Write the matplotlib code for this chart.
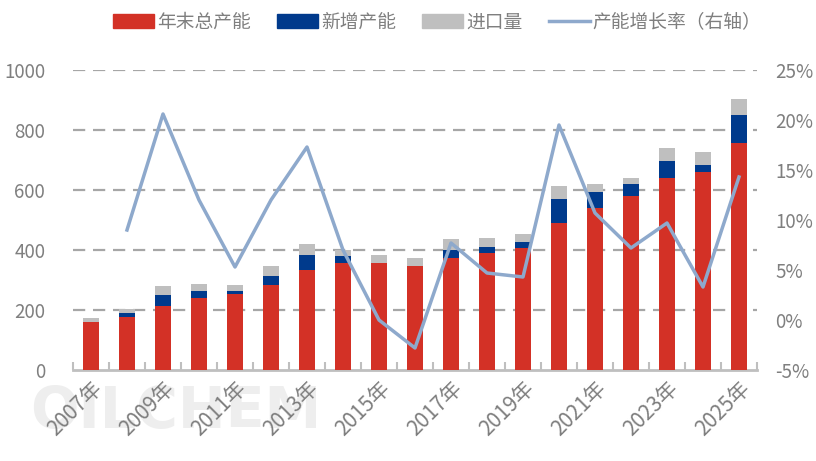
import matplotlib
matplotlib.use("Agg")
import matplotlib.pyplot as plt
import numpy as np
from matplotlib.lines import Line2D
from matplotlib.patches import Patch

plt.rcParams['font.family'] = ['Noto Sans CJK SC', 'DejaVu Sans']

years = list(range(2007, 2026))
total_cap = [160, 177, 213, 241, 253, 283, 333, 357, 357, 347, 373, 390, 407, 490, 540, 580, 640, 660, 757]
new_cap = [0, 14, 37, 22, 10, 30, 50, 23, 0, 0, 27, 20, 20, 80, 53, 40, 57, 23, 93]
imports = [13, 12, 30, 24, 20, 34, 37, 20, 26, 26, 37, 30, 26, 43, 27, 20, 43, 44, 53]
growth = [None, 9.0, 20.6, 12.0, 5.3, 12.0, 17.3, 7.0, 0.0, -2.8, 7.7, 4.7, 4.3, 19.5, 10.7, 7.2, 9.7, 3.3, 14.3]
xlabels = [f"{y}年" if (y - 2007) % 2 == 0 else "" for y in years]

RED = '#D33126'
BLUE = '#003A8C'
GRAY = '#BFBFBF'
LINE = '#8EA9CC'
TXT = '#7F7F7F'

fig = plt.figure(figsize=(8.16, 4.61), dpi=100)

fig.text(30/816, 1-412/461, 'OILCHEM', fontsize=41, color='#EEEEEE', fontweight='bold',
         va='center', ha='left', zorder=-5, family='DejaVu Sans')

ax = fig.add_axes([73/816, 1-370/461, (757-73)/816, 300/461])
ax2 = ax.twinx()

x = np.arange(len(years))
w = 0.42
tc = np.array(total_cap); nc = np.array(new_cap); im = np.array(imports)
ax.bar(x, tc, w, color=RED, zorder=3)
ax.bar(x, nc, w, bottom=tc, color=BLUE, zorder=3)
ax.bar(x, im, w, bottom=tc + nc, color=GRAY, zorder=3)

ax.set_xlim(-0.5, len(years) - 0.5)
ax.set_ylim(0, 1000)
ax.set_yticks(range(0, 1001, 200))
for v in range(200, 1001, 200):
    ax.axhline(v, color='#A6A6A6', lw=1.6, ls=(0, (5.5, 3.5)), zorder=1)

gx = [i for i, g in enumerate(growth) if g is not None]
gy = [g for g in growth if g is not None]
ax2.plot(gx, gy, color=LINE, lw=2.5, zorder=4)
ax2.set_ylim(-5, 25)
ax2.set_yticks(range(-5, 26, 5))
ax2.set_yticklabels([f"{v}%" for v in range(-5, 26, 5)])

for a in (ax, ax2):
    for s in ('top', 'left', 'right'):
        a.spines[s].set_visible(False)
ax2.spines['bottom'].set_visible(False)
ax.spines['bottom'].set_color(GRAY)
ax.spines['bottom'].set_linewidth(2)

ax.tick_params(axis='y', length=0, labelsize=13.5, labelcolor=TXT, pad=20)
ax2.tick_params(axis='y', length=0, labelsize=13.5, labelcolor=TXT, pad=13)

ax.set_xticks(x)
ax.set_xticklabels(xlabels, rotation=45, ha='right', rotation_mode='anchor', fontsize=15, color=TXT)
ax.tick_params(axis='x', length=0, pad=5)
ax.set_xticks(np.arange(-0.5, len(years), 1), minor=True)
ax.tick_params(axis='x', which='minor', length=6, width=1.5, color=GRAY, direction='in')

ax.set_zorder(ax2.get_zorder() - 1)
ax.patch.set_visible(False)
ax2.patch.set_visible(False)

handles = [Patch(color=RED), Patch(color=BLUE), Patch(color=GRAY), Line2D([0], [0], color=LINE, lw=2.5)]
labels = ['年末总产能', '新增产能', '进口量', '产能增长率（右轴）']
fig.legend(handles, labels, loc='center', bbox_to_anchor=(437/816, 1-22/461), ncol=4, frameon=False,
           fontsize=13.5, labelcolor=TXT, handlelength=2.2, handleheight=0.8, columnspacing=1.4, handletextpad=0.15)

fig.savefig('out.png', dpi=100)
